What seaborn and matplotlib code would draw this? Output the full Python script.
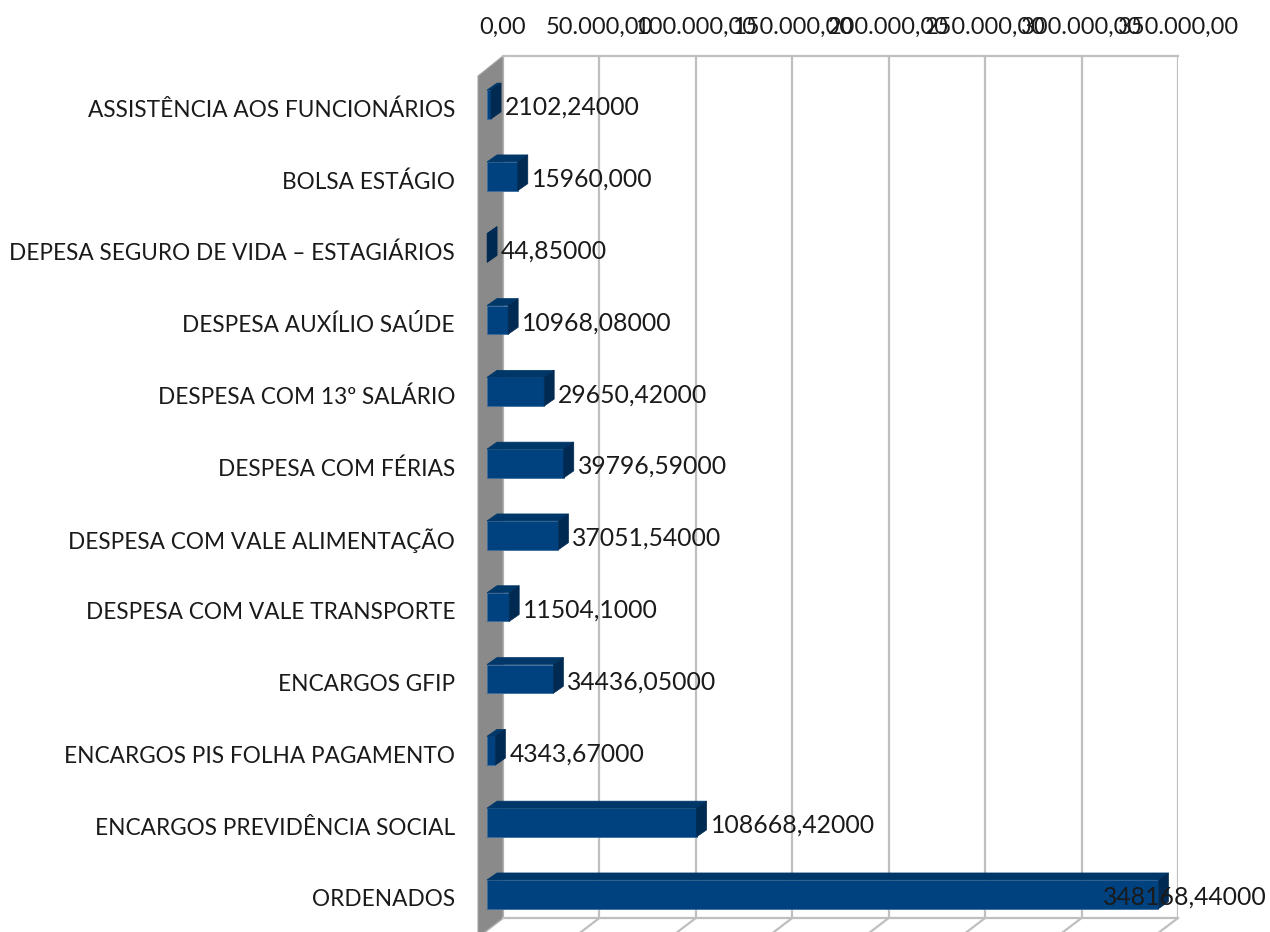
import matplotlib
matplotlib.use("Agg")
import matplotlib.pyplot as plt
import matplotlib.transforms as mtransforms
from matplotlib.patches import Polygon
from matplotlib.lines import Line2D
from matplotlib.ticker import FuncFormatter
import pandas as pd
import seaborn as sns

# Data
categories = [
    "ASSISTÊNCIA AOS FUNCIONÁRIOS",
    "BOLSA ESTÁGIO",
    "DEPESA SEGURO DE VIDA – ESTAGIÁRIOS",
    "DESPESA AUXÍLIO SAÚDE",
    "DESPESA COM 13º SALÁRIO",
    "DESPESA COM FÉRIAS",
    "DESPESA COM VALE ALIMENTAÇÃO",
    "DESPESA COM VALE TRANSPORTE",
    "ENCARGOS GFIP",
    "ENCARGOS PIS FOLHA PAGAMENTO",
    "ENCARGOS PREVIDÊNCIA SOCIAL",
    "ORDENADOS",
]
values = [2102.24, 15960.00, 44.85, 10968.08, 29650.42, 39796.59,
          37051.54, 11504.10, 34436.05, 4343.67, 108668.42, 348168.44]
value_labels = ["2102,24000", "15960,000", "44,85000", "10968,08000",
                "29650,42000", "39796,59000", "37051,54000", "11504,1000",
                "34436,05000", "4343,67000", "108668,42000", "348168,44000"]
x_ticks = [0, 50000, 100000, 150000, 200000, 250000, 300000, 350000]

FRONT = "#00427f"
TOP = "#003769"
SIDE = "#002a52"
EDGE = "#3d6c9c"
GRID = "#bfbfbf"
WALL = "#8a8a8a"
TEXT = "#1a1a1a"

W, H = 1270, 932
sns.set_style("white")
plt.rcParams["font.family"] = ["Lato", "DejaVu Sans"]

fig = plt.figure(figsize=(W / 100, H / 100), dpi=100)
# back wall of the 3D chart
ax = fig.add_axes([503 / W, 1 - 918 / H, 675 / W, (918 - 56) / H])

df = pd.DataFrame({"categoria": categories, "valor": values})
sns.barplot(data=df, x="valor", y="categoria", orient="h", color=FRONT,
            saturation=1, width=0.40, edgecolor=EDGE, linewidth=0.6, ax=ax)
bars = list(ax.patches)

ax.set_xlim(0, 350000)
ax.set_ylim(11.497, -0.508)
ax.set_xticks(x_ticks)
ax.xaxis.tick_top()
ax.xaxis.set_major_formatter(FuncFormatter(
    lambda v, p: f"{v:,.2f}".replace(",", "X").replace(".", ",").replace("X", ".")))
ax.tick_params(axis="x", length=0, pad=13, labelsize=17, labelcolor=TEXT)
ax.set_yticks([])
ax.set_xlabel("")
ax.set_ylabel("")
ax.grid(axis="x", color=GRID, lw=1.6)
ax.set_axisbelow(True)
for s in ["left", "right"]:
    ax.spines[s].set_visible(False)
for s in ["top", "bottom"]:
    ax.spines[s].set_color(GRID)
    ax.spines[s].set_linewidth(1.6)

ident = mtransforms.IdentityTransform()

# side wall and floor
WALL_DX, WALL_DY = -25, -19
tl = ax.transAxes.transform((0, 1))
bl = ax.transAxes.transform((0, 0))
ax.add_patch(Polygon([tl, bl, (bl[0] + WALL_DX, bl[1] + WALL_DY),
                      (tl[0] + WALL_DX, tl[1] + WALL_DY - 1)],
                     closed=True, facecolor=WALL, edgecolor="#a6a6a6", lw=0.8,
                     transform=ident, clip_on=False, zorder=1.5))
for t in x_ticks:
    px, py = ax.transData.transform((t, 0))
    py = bl[1]
    ax.add_line(Line2D([px, px + WALL_DX], [py, py + WALL_DY], color=GRID,
                       lw=1.6, transform=ident, clip_on=False, zorder=1))

# 3D bars: front face shifted forward, top and side faces added
FRONT_DX, FRONT_DY = -16, -12
DEPTH_DX, DEPTH_DY = 10, 7
front_off = mtransforms.ScaledTranslation(FRONT_DX / 100, FRONT_DY / 100,
                                          fig.dpi_scale_trans)
renderer = fig.canvas.get_renderer()
for i, p in enumerate(bars):
    x0, y0, w, h = p.get_x(), p.get_y(), p.get_width(), p.get_height()
    xl, ytop = ax.transData.transform((x0, y0))
    xr, ybot = ax.transData.transform((x0 + w, y0 + h))
    xl += FRONT_DX; xr += FRONT_DX
    ytop += FRONT_DY; ybot += FRONT_DY
    p.set_transform(ax.transData + front_off)
    p.set_zorder(3)
    p.set_clip_on(False)
    ax.add_patch(Polygon([(xl, ytop), (xr, ytop), (xr + DEPTH_DX, ytop + DEPTH_DY),
                          (xl + DEPTH_DX, ytop + DEPTH_DY)], closed=True,
                         facecolor=TOP, edgecolor=TOP, lw=0.5, transform=ident,
                         clip_on=False, zorder=3))
    ax.add_patch(Polygon([(xr, ytop), (xr, ybot), (xr + DEPTH_DX, ybot + DEPTH_DY),
                          (xr + DEPTH_DX, ytop + DEPTH_DY)], closed=True,
                         facecolor=SIDE, edgecolor=SIDE, lw=0.5, transform=ident,
                         clip_on=False, zorder=3))
    yc = (ytop + ybot) / 2
    txt = ax.text(xr + DEPTH_DX + 4, yc - 3, value_labels[i], transform=ident,
                  ha="left", va="center", fontsize=17.8, color=TEXT,
                  clip_on=False, zorder=4)
    if txt.get_window_extent(renderer=renderer).x1 > W - 2:
        txt.set_ha("right")
        txt.set_x(W - 3)
    ax.text(455, yc - 5.5, categories[i], transform=ident, ha="right",
            va="center", fontsize=16.3, color=TEXT, clip_on=False, zorder=4)

fig.savefig("out.png", dpi=100)
